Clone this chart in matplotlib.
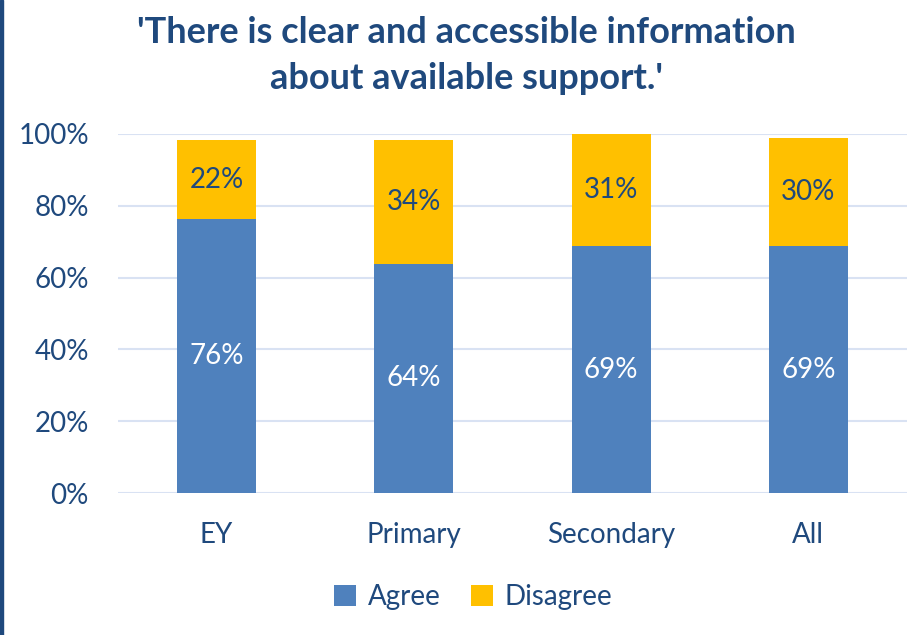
import matplotlib
matplotlib.use("Agg")

import matplotlib.pyplot as plt
from matplotlib.patches import Rectangle

# data
groups = ["EY", "Primary", "Secondary", "All"]
agree = [76.3, 63.8, 68.7, 68.7]
disagree = [22.0, 34.4, 31.3, 30.1]
y_ticks = [0, 20, 40, 60, 80, 100]

BLUE = "#4F81BD"
YELLOW = "#FFC000"
TEXT = "#1F497D"
GRID = "#D9E2F3"

plt.rcParams["font.family"] = ["Lato", "DejaVu Sans"]

fig = plt.figure(figsize=(9.15, 6.35), dpi=100)
ax = fig.add_axes([118 / 915, 142 / 635, 789 / 915, 359 / 635])

x = range(len(groups))
ax.bar(x, agree, width=0.4, color=BLUE, label="Agree", zorder=3)
ax.bar(x, disagree, width=0.4, bottom=agree, color=YELLOW, label="Disagree", zorder=3)

for i, (a, d) in enumerate(zip(agree, disagree)):
    ax.text(i, a / 2, f"{round(a)}%", ha="center", va="center",
            color="white", fontsize=20, zorder=4)
    ax.text(i, a + d / 2, f"{round(d)}%", ha="center", va="center",
            color=TEXT, fontsize=20, zorder=4)

ax.set_xlim(-0.5, 3.5)
ax.set_ylim(0, 100)
ax.set_yticks(y_ticks)
ax.set_yticklabels([f"{t}%" for t in y_ticks])
ax.set_xticks(list(x))
ax.set_xticklabels(groups)
ax.tick_params(axis="both", length=0, labelsize=20, labelcolor=TEXT)
ax.tick_params(axis="y", pad=21)
ax.tick_params(axis="x", pad=21)
ax.grid(True, axis="y", color=GRID, linewidth=1.5, zorder=0)
for s in ax.spines.values():
    s.set_visible(False)

fig.text(0.510, 0.975, "'There is clear and accessible information\nabout available support.'",
         ha="center", va="top", fontsize=26, fontweight="bold", color=TEXT,
         linespacing=1.5)

ax.legend(loc="center", bbox_to_anchor=(0.45, -0.29), ncol=2, frameon=False,
          fontsize=20, labelcolor=TEXT, handlelength=0.8, handleheight=0.8,
          handletextpad=0.4, columnspacing=1.1)

# dark blue border on the left edge
fig.patches.append(Rectangle((0, 0), 3 / 915, 1, transform=fig.transFigure,
                             color=TEXT, zorder=10))

fig.savefig("out.png", dpi=100)
plt.close(fig)
